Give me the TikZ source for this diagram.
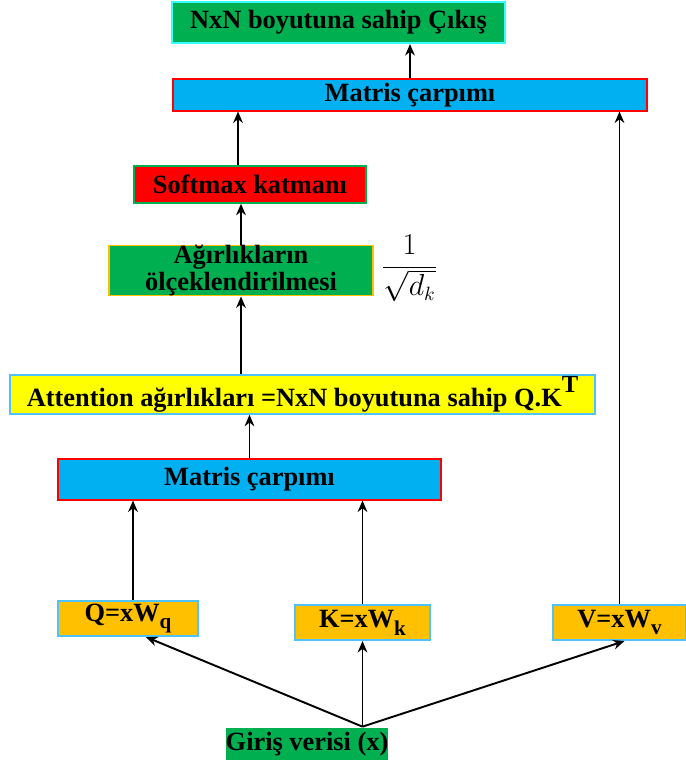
\documentclass[tikz,border=0pt]{standalone}
\usepackage[no-math]{fontspec}
\setmainfont{Liberation Serif}
\usetikzlibrary{arrows.meta,calc}
\definecolor{yesil}{HTML}{00B050}
\definecolor{mavi}{HTML}{00B0F0}
\definecolor{acikmavi}{HTML}{4FC3F7}
\definecolor{camgobegi}{HTML}{33FFFF}
\definecolor{turuncu}{HTML}{FFC000}
\definecolor{kirmizi}{HTML}{FF0000}
\definecolor{sari}{HTML}{FFFF00}
\tikzset{
    kutu/.style={
        draw,
        rectangle,
        inner sep=0pt,
        align=center,
        text=black,
        font=\bfseries\fontsize{15}{15}\selectfont
    },
    cikis kutu/.style={kutu, fill=yesil, draw=camgobegi, line width=1.2pt},
    matris kutu/.style={kutu, fill=mavi, draw=kirmizi, line width=0.6pt},
    softmax kutu/.style={kutu, fill=kirmizi, draw=yesil, line width=0.9pt},
    olcek kutu/.style={kutu, fill=yesil, draw=turuncu, line width=0.9pt},
    attention kutu/.style={kutu, fill=sari, draw=acikmavi, line width=0.9pt},
    girdi kutu/.style={kutu, fill=turuncu, draw=acikmavi, line width=1.2pt},
    kaynak kutu/.style={kutu, fill=yesil, draw=none},
    ok/.style={
        -{Stealth[length=6.5pt,width=5.5pt]},
        line width=1.1pt,
        black
    }
}
\newcommand{\altindis}[1]{\raisebox{-0.3em}{\fontsize{12}{12}\selectfont #1}}

\begin{document}
\begin{tikzpicture}
                \useasboundingbox (0,0) rectangle (13.72,15.2);
                \node [cikis kutu, minimum width=6.66cm, minimum height=0.82cm] (out) at (6.77,14.75) {NxN boyutuna sahip Çıkış};
                \node [matris kutu, minimum width=9.48cm, minimum height=0.64cm] (mattop) at (8.20,13.30) {Matris çarpımı};
                \node [softmax kutu, minimum width=4.64cm, minimum height=0.74cm] (softmax) at (5.00,11.51) {Softmax katmanı};
                \node [olcek kutu, minimum width=5.28cm, minimum height=0.98cm] (agir) at (4.82,9.79) {Ağırlıkların\\ölçeklendirilmesi};
                \node [inner sep=0pt, anchor=west] (olcek) at (7.62,9.84) {\fontsize{16}{16}\selectfont$\displaystyle\frac{1}{\sqrt{d_k}}$};
                \node [attention kutu, minimum width=11.70cm, minimum height=0.78cm] (attn) at (6.05,7.31) {Attention ağırlıkları =NxN boyutuna sahip Q.K\raisebox{0.55em}{\fontsize{14}{14}\selectfont T}};
                \node [matris kutu, minimum width=7.66cm, minimum height=0.82cm] (matbot) at (4.99,5.61) {Matris çarpımı};
                \node [girdi kutu, minimum width=2.80cm, minimum height=0.70cm] (qq) at (2.56,2.83) {Q=xW\altindis{q}};
                \node [girdi kutu, minimum width=2.70cm, minimum height=0.70cm] (kk) at (7.25,2.75) {K=xW\altindis{k}};
                \node [girdi kutu, minimum width=2.66cm, minimum height=0.70cm] (vv) at (12.39,2.75) {V=xW\altindis{v}};
                \node [kaynak kutu, minimum width=2.88cm, minimum height=0.64cm] (giris) at (6.14,0.32) {Giriş verisi (x)};
                \coordinate (G) at ($(giris.north -| kk.south)+(0,0.02)$);
                \coordinate (Q1) at ([xshift=0.1cm]qq.north);
                \coordinate (S1) at ([xshift=-0.24cm]softmax.north);
                \draw [ok] (G) -- ([xshift=0.36cm]qq.south);
                \draw [ok] (G) -- (kk.south);
                \draw [ok] (G) -- ([xshift=0.1cm]vv.south);
                \draw [ok] (Q1) -- (Q1 |- matbot.south);
                \draw [ok] (kk.north) -- (kk.north |- matbot.south);
                \draw [ok] (vv.north) -- (vv.north |- mattop.south);
                \draw [ok] (matbot.north) -- (matbot.north |- attn.south);
                \draw [ok] (agir.south |- attn.north) -- (agir.south);
                \draw [ok] (agir.north) -- (agir.north |- softmax.south);
                \draw [ok] (S1) -- (S1 |- mattop.south);
                \draw [ok] (mattop.north) -- (mattop.north |- out.south);
            \end{tikzpicture}
\end{document}
